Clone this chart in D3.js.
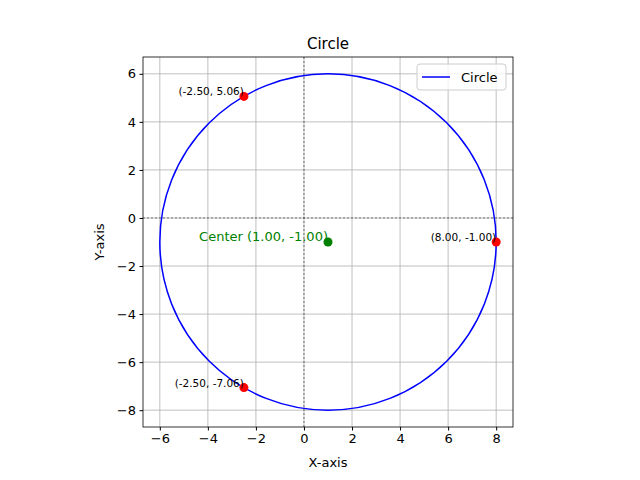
<!doctype html>
<html>
<head>
<meta charset="utf-8" />
<script src="https://cdn.jsdelivr.net/npm/d3@7"></script>
<style>
body { margin: 0; background: #fff; }
text { font-family: "DejaVu Sans", sans-serif; }
</style>
</head>
<body>
<svg id="chart" width="640" height="480"></svg>
<script>
var center = [1, -1];
var radius = 7;
var points = [[-2.5, 5.06], [-2.5, -7.06], [8, -1]];
var pointLabels = ['(-2.50, 5.06)', '(-2.50, -7.06)', '(8.00, -1.00)'];
var xTicks = [-6, -4, -2, 0, 2, 4, 6, 8];
var yTicks = [-8, -6, -4, -2, 0, 2, 4, 6];

var svg = d3.select('#chart');
var pLeft = 143, pRight = 513, pTop = 57, pBottom = 427;

var x = d3.scaleLinear().domain([-6.7, 8.7]).range([pLeft, pRight]);
var y = d3.scaleLinear().domain([-8.7, 6.7]).range([pBottom, pTop]);

// grid
svg.append('g').selectAll('line').data(xTicks).enter().append('line')
    .attr('x1', d => x(d)).attr('x2', d => x(d)).attr('y1', pTop).attr('y2', pBottom)
    .attr('stroke', '#b0b0b0').attr('stroke-width', 0.8);
svg.append('g').selectAll('line').data(yTicks).enter().append('line')
    .attr('y1', d => y(d)).attr('y2', d => y(d)).attr('x1', pLeft).attr('x2', pRight)
    .attr('stroke', '#b0b0b0').attr('stroke-width', 0.8);

// zero lines
svg.append('line').attr('x1', x(0)).attr('x2', x(0)).attr('y1', pTop).attr('y2', pBottom)
    .attr('stroke', '#000').attr('stroke-width', 0.5).attr('stroke-dasharray', '2,2');
svg.append('line').attr('y1', y(0)).attr('y2', y(0)).attr('x1', pLeft).attr('x2', pRight)
    .attr('stroke', '#000').attr('stroke-width', 0.5).attr('stroke-dasharray', '2,2');

// circle
svg.append('circle').attr('cx', x(center[0])).attr('cy', y(center[1]))
    .attr('r', x(center[0] + radius) - x(center[0]))
    .attr('fill', 'none').attr('stroke', 'blue').attr('stroke-width', 1.5);

// center
svg.append('circle').attr('cx', x(center[0])).attr('cy', y(center[1])).attr('r', 4.5).attr('fill', 'green');
svg.append('text').attr('x', x(center[0])).attr('y', y(center[1]) - 1)
    .attr('text-anchor', 'end').attr('font-size', 13).attr('fill', 'green')
    .text('Center (1.00, -1.00)');

// points
svg.append('g').selectAll('circle').data(points).enter().append('circle')
    .attr('cx', d => x(d[0])).attr('cy', d => y(d[1])).attr('r', 4.5).attr('fill', 'red');
svg.append('g').selectAll('text').data(points).enter().append('text')
    .attr('x', d => x(d[0])).attr('y', d => y(d[1]) - 1)
    .attr('text-anchor', 'end').attr('font-size', 10.5)
    .text((d, i) => pointLabels[i]);

// frame
svg.append('rect').attr('x', pLeft).attr('y', pTop).attr('width', pRight - pLeft).attr('height', pBottom - pTop)
    .attr('fill', 'none').attr('stroke', '#000').attr('stroke-width', 0.8);

// axes
var fmt = d => d < 0 ? '\u2212' + (-d) : d;
var xa = svg.append('g').attr('transform', 'translate(0,' + pBottom + ')')
    .call(d3.axisBottom(x).tickValues(xTicks).tickSize(3.5).tickPadding(3.5).tickFormat(fmt));
var ya = svg.append('g').attr('transform', 'translate(' + pLeft + ',0)')
    .call(d3.axisLeft(y).tickValues(yTicks).tickSize(3.5).tickPadding(3.5).tickFormat(fmt));
[xa, ya].forEach(function(a) {
    a.select('.domain').remove();
    a.selectAll('text').attr('font-size', 13).attr('fill', '#000').attr('font-family', 'DejaVu Sans');
});

svg.append('text').attr('x', (pLeft + pRight) / 2).attr('y', 467).attr('text-anchor', 'middle').attr('font-size', 13).text('X-axis');
svg.append('text').attr('transform', 'translate(104,' + (pTop + pBottom) / 2 + ') rotate(-90)')
    .attr('text-anchor', 'middle').attr('font-size', 13).text('Y-axis');
svg.append('text').attr('x', (pLeft + pRight) / 2).attr('y', 49).attr('text-anchor', 'middle').attr('font-size', 15).text('Circle');

// legend
var lg = svg.append('g');
lg.append('rect').attr('x', 417).attr('y', 64).attr('width', 89).attr('height', 26).attr('rx', 3)
    .attr('fill', '#fff').attr('fill-opacity', 0.8).attr('stroke', '#ccc');
lg.append('line').attr('x1', 422).attr('x2', 450).attr('y1', 77).attr('y2', 77).attr('stroke', 'blue').attr('stroke-width', 1.5);
lg.append('text').attr('x', 461).attr('y', 82).attr('font-size', 13).text('Circle');
</script>
</body>
</html>
